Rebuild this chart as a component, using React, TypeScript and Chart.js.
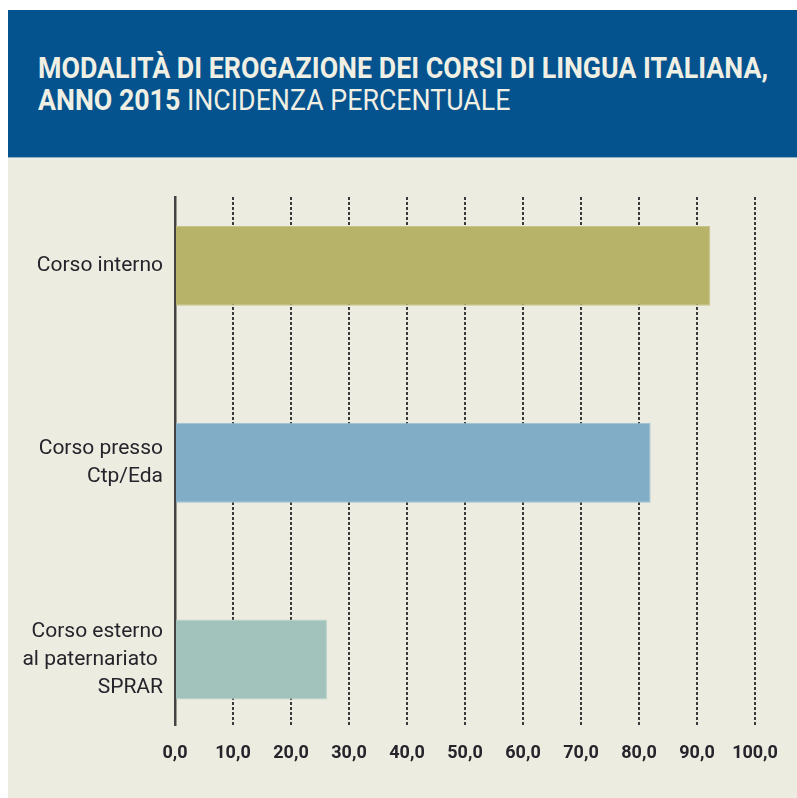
import React, { useEffect, useLayoutEffect, useRef } from "react";
import { Chart, registerables } from "chart.js";

Chart.register(...registerables);

const categories: (string | string[])[] = [
  "Corso interno",
  ["Corso presso", "Ctp/Eda"],
  ["Corso esterno", "al paternariato ", "SPRAR"],
];
const values = [92.3, 82.0, 26.2];
const barColors = ["#b7b46a", "#82adc7", "#a2c3bc"];
const barBorders = ["#c6c48a", "#9cc0d6", "#b6d2cb"];
const xTickLabels = ["0,0", "10,0", "20,0", "30,0", "40,0", "50,0", "60,0", "70,0", "80,0", "90,0", "100,0"];
const titleLine1 = "MODALITÀ DI EROGAZIONE DEI CORSI DI LINGUA ITALIANA,";
const titleLine2Bold = "ANNO 2015";
const titleLine2Rest = " INCIDENZA PERCENTUALE";

const FONT = "Roboto, 'Liberation Sans', sans-serif";

export default function App() {
  const ref = useRef<HTMLCanvasElement | null>(null);
  const titleRef = useRef<HTMLDivElement | null>(null);
  const line1Ref = useRef<HTMLSpanElement | null>(null);

  useLayoutEffect(() => {
    const box = titleRef.current;
    const l1 = line1Ref.current;
    if (!box || !l1) return;
    const w = l1.getBoundingClientRect().width;
    if (w > 0) box.style.transform = `scaleX(${730 / w})`;
  }, []);

  useEffect(() => {
    if (!ref.current) return;
    const chart = new Chart(ref.current, {
      type: "bar",
      data: {
        datasets: [
          {
            data: values.map((v, i) => ({ x: v, y: i })),
            backgroundColor: barColors,
            borderColor: barBorders,
            borderWidth: 1,
            borderSkipped: "start",
            barPercentage: 0.406,
            categoryPercentage: 1,
          },
        ],
      },
      options: {
        indexAxis: "y",
        animation: false,
        responsive: false,
        maintainAspectRatio: false,
        layout: { padding: { left: 0, right: 42, top: 39, bottom: 17 } },
        plugins: { legend: { display: false }, tooltip: { enabled: false }, title: { display: false } },
        scales: {
          x: {
            type: "linear",
            min: 0,
            max: 100,
            afterBuildTicks: (s: any) => {
              s.ticks = xTickLabels.map((_, i) => ({ value: i * 10 }));
            },
            afterFit: (s: any) => {
              s.paddingLeft = 0;
              s.paddingRight = 0;
            },
            grid: { color: "#3a3a3a", lineWidth: 2, drawTicks: false },
            border: { display: false, dash: [3, 2] },
            ticks: {
              padding: 17,
              maxRotation: 0,
              minRotation: 0,
              autoSkip: false,
              color: "#26232a",
              font: { family: FONT, size: 18, weight: "bold" },
              callback: (_v: any, i: number) => xTickLabels[i],
            },
          },
          y: {
            type: "linear",
            reverse: true,
            offset: false,
            min: -0.35,
            max: 2.335,
            afterBuildTicks: (s: any) => {
              s.ticks = categories.map((_, i) => ({ value: i }));
            },
            afterFit: (s: any) => {
              s.width = 167;
              s.paddingTop = 0;
              s.paddingBottom = 0;
            },
            grid: { display: false, drawTicks: false },
            border: { display: true, color: "#444444", width: 2.5 },
            ticks: {
              padding: 12,
              autoSkip: false,
              color: "#26232a",
              font: { family: FONT, size: 21, lineHeight: 1.33 },
              callback: (_v: any, i: number) => categories[i],
            },
          },
        },
      },
    });
    return () => chart.destroy();
  }, []);

  return (
    <div
      style={{
        position: "absolute",
        left: 8,
        top: 10,
        width: 789,
        height: 788,
        background: "#edece1",
        overflow: "hidden",
      }}
    >
      <div
        style={{
          position: "absolute",
          left: 0,
          top: 0,
          width: 789,
          height: 147,
          background: "#04538f",
          borderBottom: "1px solid #8fb0c8",
          overflow: "hidden",
        }}
      >
        <div
          ref={titleRef}
          style={{
            position: "absolute",
            left: 30,
            top: 42,
            fontFamily: FONT,
            fontSize: 29,
            lineHeight: "32px",
            color: "#f0efe3",
            whiteSpace: "nowrap",
            transformOrigin: "0 0",
          }}
        >
          <div>
            <span ref={line1Ref} style={{ fontWeight: "bold" }}>{titleLine1}</span>
          </div>
          <div>
            <span style={{ fontWeight: "bold" }}>{titleLine2Bold}</span>
            <span>{titleLine2Rest}</span>
          </div>
        </div>
      </div>
      <canvas
        ref={ref}
        width={789}
        height={640}
        style={{ position: "absolute", left: 0, top: 148, width: 789, height: 640 }}
      />
    </div>
  );
}
